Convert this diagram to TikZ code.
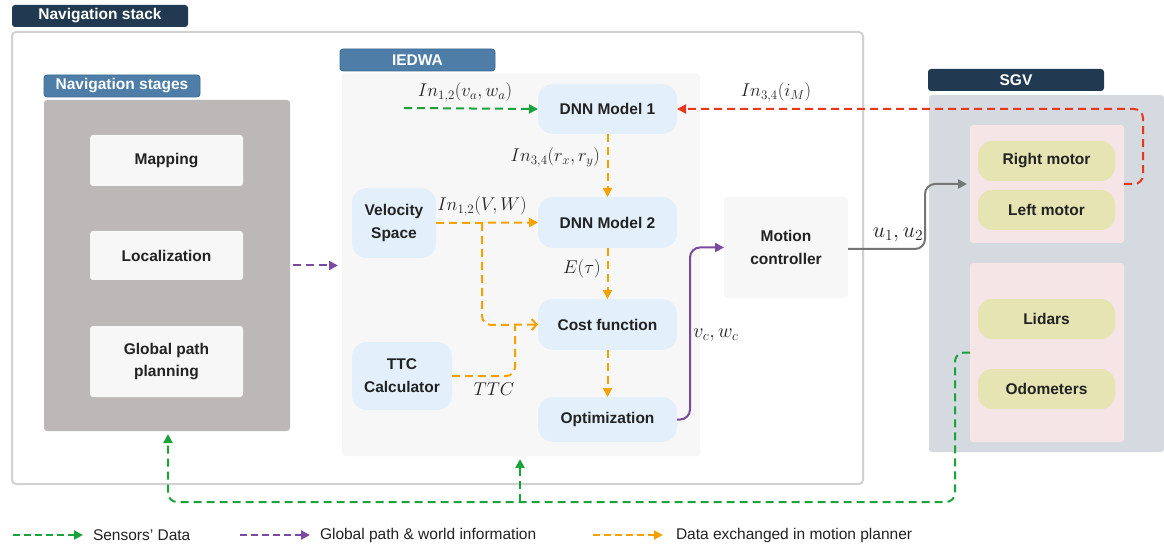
\RequirePackage{fix-cm}
\documentclass[tikz,border=0pt]{standalone}
\usepackage{fontspec}
\setmainfont{Liberation Sans}
\usetikzlibrary{arrows.meta,calc}
\definecolor{navy}{HTML}{223A51}
\definecolor{steel}{HTML}{4E7EA7}
\definecolor{steeld}{HTML}{3C6A90}
\definecolor{navgray}{HTML}{BCB8B7}
\definecolor{offwhite}{HTML}{F7F7F7}
\definecolor{lblue}{HTML}{E3F0FB}
\definecolor{sgvgray}{HTML}{D4DADF}
\definecolor{pinkbg}{HTML}{F6E5E7}
\definecolor{khaki}{HTML}{E6E4B3}
\definecolor{cgreen}{HTML}{1AA33A}
\definecolor{cred}{HTML}{E8361F}
\definecolor{corange}{HTML}{F5A100}
\definecolor{cpurple}{HTML}{7A4AA0}
\definecolor{cgrayarr}{HTML}{757575}
\definecolor{txt}{HTML}{222222}
\begin{document}
\begin{tikzpicture}[x=1pt,y=-1pt,
  every node/.style={inner sep=0pt, outer sep=0pt},
  hdr/.style={rounded corners=3pt, text=white, font=\fontsize{15.5}{17}\selectfont\bfseries},
  navhdr/.style={hdr, fill=navy},
  stlhdr/.style={hdr, fill=steel, draw=steeld, line width=0.8pt},
  wbox/.style={fill=offwhite, rounded corners=3pt, text=txt, align=center, font=\fontsize{15.5}{22}\selectfont\bfseries},
  bbox/.style={fill=lblue, rounded corners=15pt, text=txt, align=center, font=\fontsize{15.5}{23}\selectfont\bfseries},
  kbox/.style={fill=khaki, rounded corners=14pt, text=txt, align=center, font=\fontsize{15.5}{17}\selectfont\bfseries},
  mlbl/.style={font=\fontsize{18.5}{20}\selectfont, text=txt},
  tip/.style={-{Triangle[length=9pt,width=9pt]}},
  dsh/.style={line width=2pt, dash pattern=on 8pt off 5pt},
  gdash/.style={dsh, draw=cgreen, tip},
  rdash/.style={dsh, draw=cred, tip, rounded corners=9pt},
  odash/.style={dsh, draw=corange, tip, rounded corners=9pt},
  pdash/.style={dsh, draw=cpurple, tip},
  legtxt/.style={anchor=west, font=\fontsize{15.5}{17}\selectfont, text=txt}
]
\useasboundingbox (0,0) rectangle (1164,545);
\fill[white] (0,0) rectangle (1164,545);

% Navigation stack
\node[navhdr, minimum width=176pt, minimum height=22pt] (hstack) at (100,16) {Navigation stack};
\node[draw=black!18, line width=2pt, fill=white, rounded corners=4pt, minimum width=851pt, minimum height=452pt] (outer) at (437.5,258) {};

% Navigation stages
\node[stlhdr, minimum width=156pt, minimum height=22pt] (hstages) at (122,86) {Navigation stages};
\node[fill=navgray, rounded corners=3pt, minimum width=246pt, minimum height=331pt] (navbox) at (167,265.5) {};
\node[wbox, minimum width=153pt, minimum height=51pt] (map) at (166.5,160.5) {Mapping};
\node[wbox, minimum width=153pt, minimum height=49pt] (loc) at (166.5,255.5) {Localization};
\node[wbox, minimum width=153pt, minimum height=71pt] (gpp) at (166.5,361.5) {Global path\\planning};

% IEDWA
\node[stlhdr, minimum width=155pt, minimum height=22pt] (hiedwa) at (417.5,60) {IEDWA};
\node[fill=offwhite, rounded corners=3pt, minimum width=358pt, minimum height=382pt] (iepanel) at (521,265) {};
\node[bbox, minimum width=139pt, minimum height=50pt] (dnn1) at (607.5,109) {DNN Model 1};
\node[bbox, minimum width=139pt, minimum height=51pt] (dnn2) at (607.5,222.5) {DNN Model 2};
\node[bbox, minimum width=139pt, minimum height=51pt] (cost) at (607.5,324.5) {Cost function};
\node[bbox, minimum width=139pt, minimum height=45pt] (opt) at (607.5,419.5) {Optimization};
\node[bbox, minimum width=84pt, minimum height=70pt] (vel) at (394,223) {Velocity\\Space};
\node[bbox, minimum width=100pt, minimum height=68pt] (ttc) at (402,376) {TTC\\Calculator};

% Motion controller
\node[wbox, minimum width=124pt, minimum height=101pt, font=\fontsize{15.5}{23}\selectfont\bfseries] (mc) at (786,247.5) {Motion\\controller};

% SGV
\node[navhdr, minimum width=176pt, minimum height=22pt] (hsgv) at (1016,80) {SGV};
\node[fill=sgvgray, rounded corners=3pt, minimum width=235pt, minimum height=357pt] (sgv) at (1046.5,273.5) {};
\node[fill=pinkbg, rounded corners=3pt, minimum width=154pt, minimum height=118pt] (pink1) at (1047,184) {};
\node[kbox, minimum width=137pt, minimum height=40pt] (rm) at (1046.5,161) {Right motor};
\node[kbox, minimum width=137pt, minimum height=40pt] (lm) at (1046.5,210) {Left motor};
\node[fill=pinkbg, rounded corners=3pt, minimum width=154pt, minimum height=179pt] (pink2) at (1047,352.5) {};
\node[kbox, minimum width=137pt, minimum height=40pt] (lid) at (1046.5,319) {Lidars};
\node[kbox, minimum width=137pt, minimum height=40pt] (odo) at (1046.5,389) {Odometers};

% ---- connectors ----
\coordinate (gin) at (404,108);
\draw[gdash] (gin) -- (dnn1.west);
\node[mlbl] (l1) at (465,92) {$In_{1,2}(v_a,w_a)$};

\coordinate (rc) at (1143,109);
\draw[rdash] (pink1.east) -| (rc) -- (dnn1.east);
\node[mlbl] (l2) at (776,92) {$In_{3,4}(i_M)$};

\draw[odash] (dnn1.south) -- (dnn2.north);
\node[mlbl, anchor=east] (l3) at (600,157) {$In_{3,4}(r_x,r_y)$};

\draw[odash] (vel.east) -- (dnn2.west);
\node[mlbl] (l4) at (482,206) {$In_{1,2}(V,W)$};

\coordinate (br) at (482,223);
\coordinate (brc) at (482,325);
\draw[dsh, draw=corange, rounded corners=9pt, -{Straight Barb[length=5pt,width=11pt]}] (br) -- (brc) -- (cost.west);
\coordinate (tc) at (515,325);
\draw[dsh, draw=corange, rounded corners=9pt] (ttc.east) -| (tc);
\node[mlbl] (l5) at (494,389) {$TTC$};

\draw[odash] (dnn2.south) -- (cost.north);
\node[mlbl] (l6) at (582,269) {$E(\tau)$};
\draw[odash] (cost.south) -- (opt.north);

\coordinate (p1) at (690,419.5);
\coordinate (p2) at (690,247.5);
\draw[cpurple, line width=2pt, rounded corners=10pt, tip] (opt.east) -- (p1) -- (p2) -- (mc.west);
\node[mlbl, font=\fontsize{20}{22}\selectfont] (l7) at (716,335) {$v_c,w_c$};

\coordinate (g1) at (925,249);
\coordinate (g2) at (925,184);
\draw[cgrayarr, line width=2pt, rounded corners=10pt, tip, shorten >=3pt] (mc.east |- g1) -- (g1) -- (g2) -- (pink1.west);
\node[mlbl, font=\fontsize{22}{24}\selectfont] (l8) at (898,235) {$u_1,u_2$};

\draw[pdash, shorten <=3pt, shorten >=4pt] (navbox.east) -- (iepanel.west |- navbox.east);

\coordinate (s0) at (955,352.5);
\coordinate (s1) at (955,502);
\coordinate (s2) at (168,502);
\coordinate (s3) at (520,502);
\draw[gdash, rounded corners=9pt, shorten >=3pt] (pink2.west) -- (s0) -- (s1) -- (s2) -- (navbox.south -| s2);
\draw[gdash, rounded corners=9pt, shorten >=3pt] (s3) -- (iepanel.south -| s3);

% ---- legend ----
\coordinate (a1) at (13,535); \coordinate (b1) at (83,535);
\draw[gdash, dash pattern=on 7pt off 4pt] (a1) -- (b1);
\node[legtxt] (t1) at (93,535) {Sensors’ Data};
\coordinate (a2) at (240,535); \coordinate (b2) at (310,535);
\draw[pdash, dash pattern=on 7pt off 4pt] (a2) -- (b2);
\node[legtxt] (t2) at (320,535) {Global path \& world information};
\coordinate (a3) at (593,535); \coordinate (b3) at (663,535);
\draw[odash, dash pattern=on 7pt off 4pt] (a3) -- (b3);
\node[legtxt] (t3) at (676,535) {Data exchanged in motion planner};
\end{tikzpicture}
\end{document}
